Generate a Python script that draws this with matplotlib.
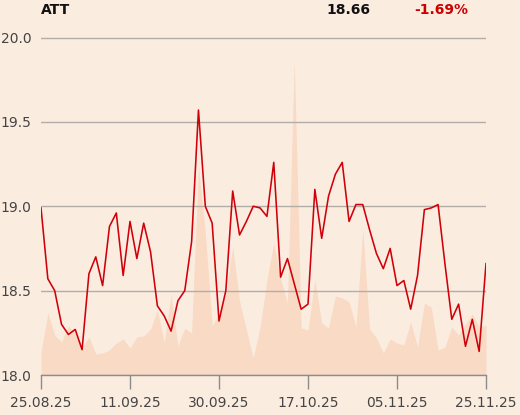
import matplotlib
matplotlib.use("Agg")
import matplotlib.pyplot as plt

title = "ATT"
last_price = "18.66"
change = "-1.69%"

prices = [18.99, 18.57, 18.50, 18.30, 18.24, 18.27, 18.15, 18.60, 18.70, 18.53,
          18.88, 18.96, 18.59, 18.91, 18.69, 18.90, 18.73, 18.41, 18.35, 18.26,
          18.44, 18.50, 18.79, 19.57, 19.00, 18.90, 18.32, 18.50, 19.09, 18.83,
          18.91, 19.00, 18.99, 18.94, 19.26, 18.58, 18.69, 18.54, 18.39, 18.42,
          19.10, 18.81, 19.06, 19.19, 19.26, 18.91, 19.01, 19.01, 18.86, 18.72,
          18.63, 18.75, 18.53, 18.56, 18.39, 18.59, 18.98, 18.99, 19.01, 18.66,
          18.33, 18.42, 18.17, 18.33, 18.14, 18.66]

volume = [23, 62, 40, 33, 49, 42, 27, 38, 21, 22,
          25, 32, 36, 27, 38, 39, 46, 65, 32, 80,
          29, 47, 42, 209, 142, 49, 62, 80, 128, 74,
          45, 17, 48, 95, 132, 96, 72, 315, 47, 45,
          95, 52, 47, 79, 77, 73, 48, 145, 46, 37,
          22, 36, 32, 30, 53, 28, 72, 68, 25, 28,
          48, 40, 51, 61, 48, 50]

tick_idx = [0, 13, 26, 39, 52, 65]
tick_labels = ["25.08.25", "11.09.25", "30.09.25", "17.10.25", "05.11.25", "25.11.25"]
y_ticks = [18.0, 18.5, 19.0, 19.5, 20.0]

bg = "#fbece0"
fill_c = "#f8dac5"
red = "#d0000a"

fig = plt.figure(figsize=(5.2, 4.15), dpi=100, facecolor=bg)
ax = fig.add_axes([41/520, 1-375/415, 445/520, 337.5/415])
ax2 = ax.twinx()
ax.set_zorder(ax2.get_zorder() + 1)
ax.patch.set_visible(False)
ax2.set_facecolor(bg)

x = list(range(len(prices)))
ax2.fill_between(x, 0, volume, color=fill_c, linewidth=0)
ax2.set_ylim(0, 337.5)
ax2.set_yticks([])
for s in ax2.spines.values():
    s.set_visible(False)

ax.plot(x, prices, color=red, linewidth=1.15, zorder=3)
ax.set_xlim(0, len(prices) - 1)
ax.set_ylim(18.0, 20.0)
ax.set_yticks(y_ticks)
ax.set_yticklabels([f"{v:.1f}" for v in y_ticks])
ax.set_xticks(tick_idx)
ax.set_xticklabels(tick_labels)
ax.grid(axis="y", color="#b3adaa", linewidth=1.0, zorder=1)
for side in ["left", "right", "top"]:
    ax.spines[side].set_visible(False)
ax.spines["bottom"].set_color("#8c8c8c")
ax.spines["bottom"].set_linewidth(1.0)
ax.tick_params(axis="y", length=0, pad=7, labelsize=10, labelcolor="#444444")
ax.tick_params(axis="x", length=10, width=1.0, color="#8c8c8c", pad=5,
               labelsize=10, labelcolor="#444444")

fig.text(41/520, 1-10/415, title, fontsize=10, fontweight="bold", color="#111111",
         ha="left", va="center")
fig.text(370/520, 1-10/415, last_price, fontsize=10, fontweight="bold", color="#111111",
         ha="right", va="center")
fig.text(468/520, 1-10/415, change, fontsize=10, fontweight="bold", color="#cc0000",
         ha="right", va="center")

fig.savefig("out.png", dpi=100, facecolor=bg)
